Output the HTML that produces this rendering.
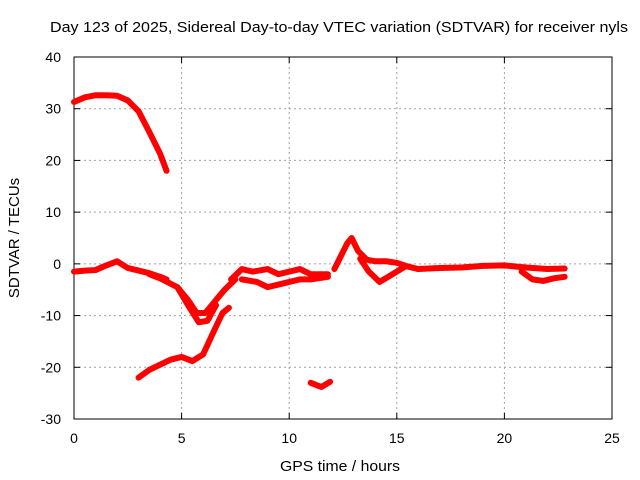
<!DOCTYPE html>
<html><head><meta charset="utf-8"><style>
body{margin:0;background:#fff;}
svg{display:block;font-family:"Liberation Sans",sans-serif;}
</style></head><body>
<svg id="chart" width="640" height="480">
<text x="50" y="32" font-size="15" textLength="578" lengthAdjust="spacingAndGlyphs">Day 123 of 2025, Sidereal Day-to-day VTEC variation (SDTVAR) for receiver nyls</text>
<g id="grid"></g>
<g id="axes"></g>
<g id="series"></g>
<text x="280" y="471" font-size="15" textLength="120" lengthAdjust="spacingAndGlyphs">GPS time / hours</text>
<text transform="translate(19,238) rotate(-90)" font-size="15" text-anchor="middle">SDTVAR / TECUs</text>
</svg>
<script>
const xTicks=[0,5,10,15,20,25];
const yTicks=[-30,-20,-10,0,10,20,30,40];
const seriesA=[[0,31.3],[0.5,32.2],[1,32.6],[1.5,32.6],[2,32.5],[2.5,31.6],[3,29.5],[3.5,25.5],[4,21.3],[4.3,18]];
const seriesB=[[0,-1.5],[0.5,-1.3],[1,-1.2],[1.5,-0.3],[2,0.5],[2.5,-0.8],[3,-1.3],[3.5,-1.8],[4,-2.5],[4.3,-3]];
const seriesC=[[3.5,-2],[4,-2.8],[4.8,-4.5],[5.3,-7],[5.7,-9.5],[6.1,-9.5],[6.6,-7],[7,-5],[7.5,-3]];
const seriesC2=[[4.8,-4.5],[5.3,-8],[5.8,-11.3],[6.2,-11],[6.6,-8]];
const seriesD=[[3,-22],[3.5,-20.5],[4,-19.5],[4.5,-18.5],[5,-18],[5.5,-18.8],[6,-17.5],[6.5,-13],[6.9,-9.5],[7.2,-8.5]];
const seriesE=[[7.3,-3],[7.8,-1],[8.3,-1.5],[9,-1],[9.5,-2],[10,-1.5],[10.5,-1],[11,-2],[11.8,-2]];
const seriesE2=[[7.8,-3],[8.5,-3.5],[9,-4.5],[9.5,-4],[10,-3.5],[10.5,-3],[11,-3],[11.8,-2.5]];
const seriesF=[[12.1,-1],[12.4,1.5],[12.7,4],[12.9,5],[13.2,2.5],[13.6,0.8],[14,0.5],[14.5,0.5],[15,0.2],[15.5,-0.5],[16,-1],[17,-0.8],[18,-0.7],[19,-0.4],[20,-0.3],[21,-0.7],[22,-1],[22.8,-0.9]];
const seriesF2=[[13.3,1],[13.7,-1.5],[14.2,-3.5],[14.6,-2.5],[15,-1.5],[15.4,-0.5]];
const seriesF3=[[20.8,-1.5],[21.3,-3],[21.8,-3.3],[22.3,-2.8],[22.8,-2.5]];
const seriesG=[[11,-23],[11.3,-23.5],[11.5,-23.8],[11.9,-22.8]];
const allSeries=[seriesA,seriesB,seriesC,seriesC2,seriesD,seriesE,seriesE2,seriesF,seriesF2,seriesF3,seriesG];
const X0=74,X1=612,Y0=419,Y1=57;
const sx=v=>X0+(v-0)/(25-0)*(X1-X0);
const sy=v=>Y0-(v+30)/(70)*(Y0-Y1);
const NS="http://www.w3.org/2000/svg";
const mk=(t,a,p)=>{const e=document.createElementNS(NS,t);for(const k in a)e.setAttribute(k,a[k]);p.appendChild(e);return e;};
const grid=document.getElementById('grid'),axes=document.getElementById('axes'),ser=document.getElementById('series');
xTicks.forEach(t=>{
 if(t>0&&t<25){const l=mk('line',{x1:sx(t),x2:sx(t),y1:Y0,y2:Y1,stroke:'#a0a0a0','stroke-dasharray':'2,3'},grid);
 
 }
 const tx=mk('text',{x:sx(t),y:Y0+24,'font-size':14,'text-anchor':'middle'},axes);tx.textContent=t;
 
 
 mk('line',{x1:sx(t),x2:sx(t),y1:Y0,y2:Y0-6,stroke:'#000'},axes);
 mk('line',{x1:sx(t),x2:sx(t),y1:Y1,y2:Y1+6,stroke:'#000'},axes);
});
yTicks.forEach(t=>{
 if(t>-30&&t<40){const l=mk('line',{x1:X0,x2:X1,y1:sy(t),y2:sy(t),stroke:'#a0a0a0','stroke-dasharray':'2,3'},grid);
 
 }
 const tx=mk('text',{x:X0-13,y:sy(t)+5,'font-size':14,'text-anchor':'end'},axes);tx.textContent=t;
 
 
 mk('line',{x1:X0,x2:X0+6,y1:sy(t),y2:sy(t),stroke:'#000'},axes);
 mk('line',{x1:X1,x2:X1-6,y1:sy(t),y2:sy(t),stroke:'#000'},axes);
});
mk('rect',{x:X0,y:Y1,width:X1-X0,height:Y0-Y1,fill:'none',stroke:'#000'},axes);
allSeries.forEach(s=>{
 const p=mk('polyline',{points:s.map(d=>sx(d[0])+','+sy(d[1])).join(' '),fill:'none',stroke:'#ff0000','stroke-width':6,'stroke-linejoin':'round','stroke-linecap':'round'},ser);
 
 
});
</script>
</body></html>
